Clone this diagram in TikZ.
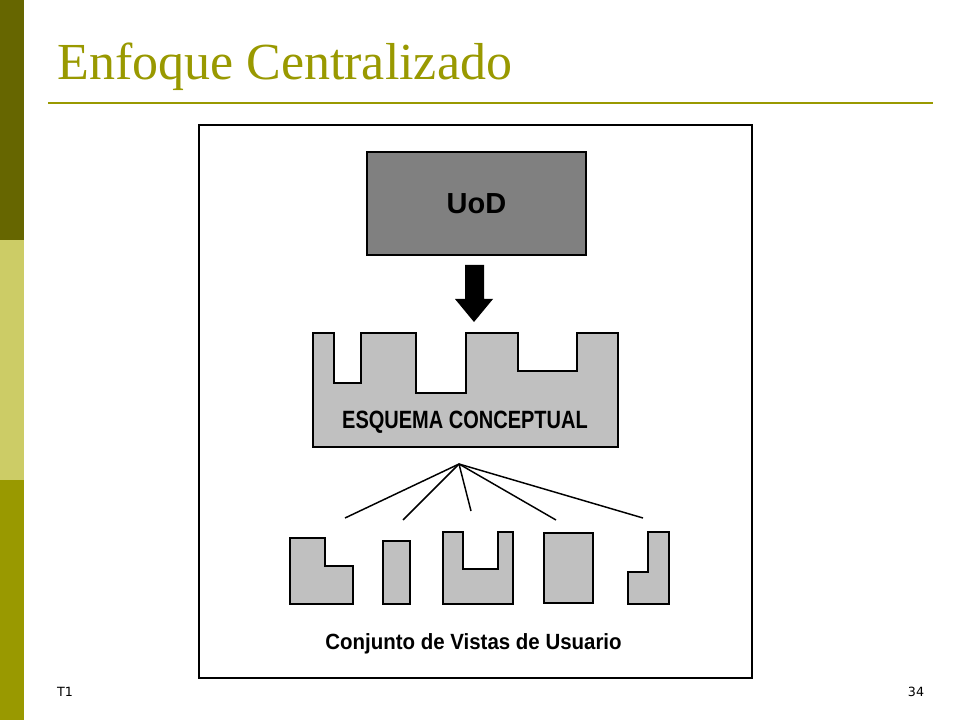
\documentclass[tikz,border=0pt]{standalone}
\usepackage{fontspec}
\setmainfont{Liberation Serif}
\newfontfamily\figsans{Liberation Sans}
\newfontfamily\narrowsans[FakeStretch=0.8]{Liberation Sans}
\newfontfamily\vistasans[FakeStretch=0.93]{Liberation Sans}
\newfontfamily\slidesans{DejaVu Sans}
\definecolor{olivedark}{HTML}{666600}
\definecolor{olivelight}{HTML}{CCCC66}
\definecolor{olive}{HTML}{999900}
\definecolor{uodgray}{HTML}{808080}
\definecolor{partgray}{HTML}{C0C0C0}
\begin{document}
\begin{tikzpicture}[x=0.75pt,y=-0.75pt,
    part/.style={draw,line width=1.5pt,fill=partgray,line join=miter},
    fan/.style={line width=1.1pt},
    figtext/.style={inner sep=0pt,anchor=base,font=\figsans\bfseries}]
\useasboundingbox[fill=white](0,0)rectangle(960,720);

% slide frame
\fill[olivedark](0,0)rectangle(24,240);
\fill[olivelight](0,240)rectangle(24,480);
\fill[olive](0,480)rectangle(24,720);
\node[anchor=base west,inner sep=0pt,text=olive,font=\fontsize{39}{44}\selectfont](title)at(57,80){Enfoque Centralizado};
\draw[olive,line width=2.2pt](48,103)--(933,103);
\draw[line width=1.1pt](199,125)rectangle(752,678);

% UoD and arrow
\node[draw,line width=1.5pt,fill=uodgray,minimum width=164.25pt,minimum height=77.25pt,
      font=\fontsize{21.75}{24}\figsans\bfseries](uod)at(476.5,203.5){UoD};
\fill(465,265)--(484,265)--(484,299)--(493,299)--(474,322)--(455,299)--(465,299)--cycle;

% esquema
\draw[part](313,333)--(334,333)--(334,383)--(361,383)--(361,333)--(416,333)--(416,393)--(466,393)
    --(466,333)--(518,333)--(518,371)--(577,371)--(577,333)--(618,333)--(618,447)--(313,447)--cycle;
\node[figtext,font=\fontsize{18.75}{21}\narrowsans\bfseries](esquema)at(465,428){ESQUEMA CONCEPTUAL};

% fan
\coordinate(hub)at(459,464);
\foreach \ex/\ey [count=\i] in {345/518,403/520,471/511,556/520,643/518}
{
    \coordinate(v\i)at(\ex,\ey);
    \draw[fan](hub)--(v\i);
}

% vistas
\draw[part](290,538)--(325,538)--(325,566)--(353,566)--(353,604)--(290,604)--cycle;
\draw[part](383,541)rectangle(410,604);
\draw[part](443,532)--(463,532)--(463,569)--(498,569)--(498,532)--(513,532)--(513,604)--(443,604)--cycle;
\draw[part](544,533)rectangle(593,603);
\draw[part](648,532)--(669,532)--(669,604)--(628,604)--(628,572)--(648,572)--cycle;
\node[figtext,font=\fontsize{16.5}{19}\vistasans\bfseries](vistas)at(473.5,649){Conjunto de Vistas de Usuario};

% footer
\node[font=\fontsize{9.5}{11}\slidesans](t1)at(65,692){T1};
\node[font=\fontsize{9.5}{11}\slidesans](page)at(916,692){34};
\end{tikzpicture}
\end{document}
